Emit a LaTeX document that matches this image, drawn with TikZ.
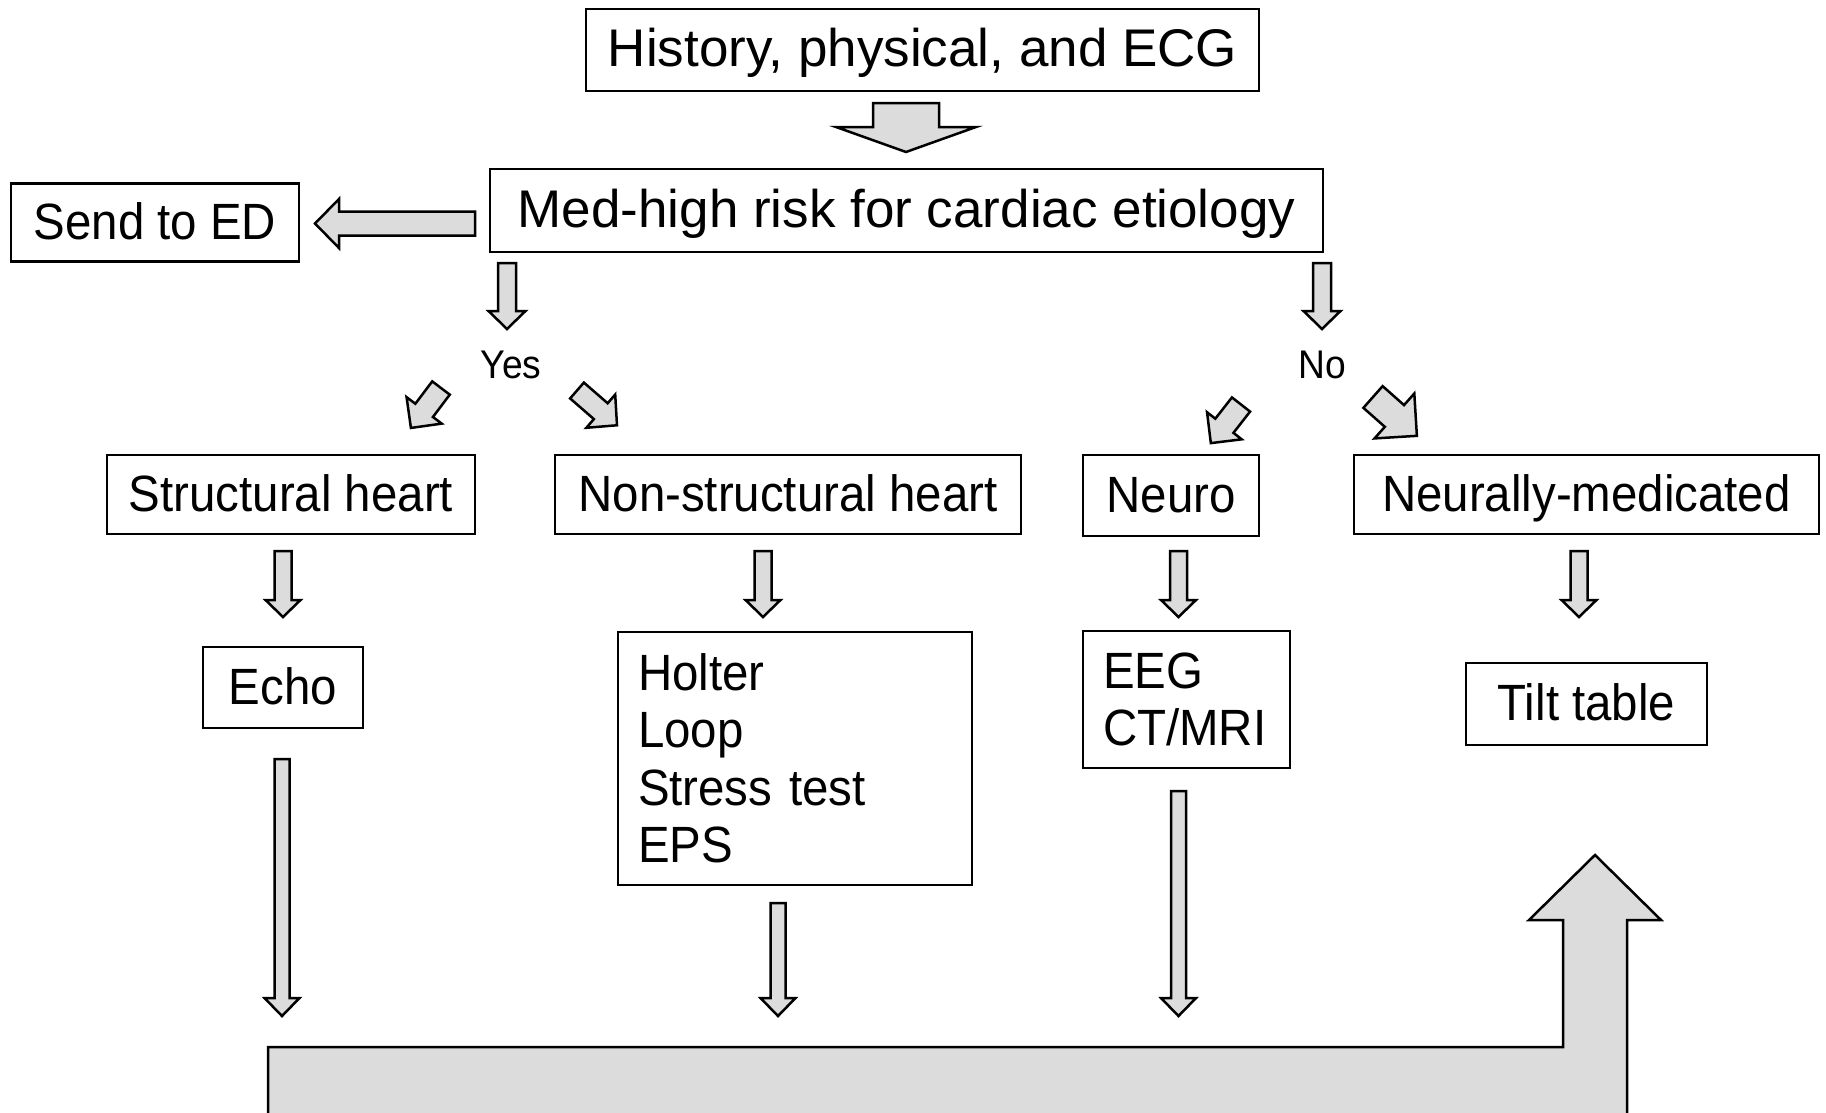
\documentclass[tikz,border=0pt]{standalone}
\usepackage{fontspec}
\setmainfont{Liberation Sans}
\newfontfamily\narrowsf[FakeStretch=0.93]{Liberation Sans}
\usepackage{tikz}
\usetikzlibrary{positioning,calc}
\definecolor{arrowgray}{RGB}{220,220,220}

\tikzset{
  box/.style={draw, line width=2.5pt, inner xsep=20pt, inner ysep=0pt,
    font=\narrowsf\fontsize{51}{57.5}\selectfont},
  oneline/.style={inner xsep=0pt, text height=42pt, text depth=9pt},
  listbox/.style={align=left},
  topbox/.style={box, oneline, font=\fontsize{53}{60}\selectfont},
  barrow/.style={draw, line width=2.5pt, fill=arrowgray, line join=miter},
  answer/.style={anchor=base, inner sep=0pt, font=\narrowsf\fontsize{40}{48}\selectfont}
}

\begin{document}
\begin{tikzpicture}[x=1pt,y=-1pt]

% tail, angle, length, shaft, head, head length
\newcommand{\blockarrow}[6]{%
  \draw[barrow, shift={(#1)}, rotate=#2] (0,{#4/2}) -- ({#3-#6},{#4/2}) -- ({#3-#6},{#5/2})
    -- (#3,0) -- ({#3-#6},{-#5/2}) -- ({#3-#6},{-#4/2}) -- (0,{-#4/2}) -- cycle;}

\useasboundingbox (0,0) rectangle (1826,1112);
\clip (0,0) rectangle (1826,1112);

\node[topbox, minimum width=673pt, minimum height=82pt] (hist) at (922.5,50) {History, physical, and ECG};
\node[topbox, minimum width=833pt, minimum height=83pt] (risk) at (906.5,210.5) {Med-high risk for cardiac etiology};
\node[box, oneline, minimum width=288pt, minimum height=78pt] (ed) at (155,222.5) {Send to ED};

\node[answer] (yes) at (511,378) {Yes};
\node[answer] (no) at (1322,378) {No};

\node[box, oneline, minimum width=368pt, minimum height=79pt] (struct) at (291,494.5) {Structural heart};
\node[box, oneline, minimum width=466pt, minimum height=79pt] (nonstruct) at (788,494.5) {Non-structural heart};
\node[box, oneline, minimum width=176pt, minimum height=81pt] (neuro) at (1171,495.5) {Neuro};
\node[box, oneline, minimum width=465pt, minimum height=79pt] (neurally) at (1586.5,494.5) {Neurally-medicated};

\node[box, oneline, minimum width=160pt, minimum height=81pt] (echo) at (283,687.5) {Echo};
\node[box, listbox, text width=314pt, minimum height=253pt] (holter) at (795,758.5) {Holter\\Loop\\Stress test\\EPS};
\node[box, listbox, text width=167pt, minimum height=137pt] (eeg) at (1186.5,699.5) {EEG\\CT/MRI};
\node[box, oneline, minimum width=241pt, minimum height=82pt] (tilt) at (1586.5,704) {Tilt table};

\coordinate (histtail) at (906,103);
\coordinate (edtail) at (475,223.5);
\coordinate (yestail) at (507,263);
\coordinate (notail) at (1322,263);
\coordinate (yesleft) at (441,388);
\coordinate (yesright) at (577,390.5);
\coordinate (noleft) at (1241,404.5);
\coordinate (noright) at (1373,397);

\blockarrow{histtail}{-90}{49}{66}{140}{25}
\blockarrow{edtail}{180}{160}{24}{49}{24}
\blockarrow{yestail}{-90}{66}{18}{37}{18}
\blockarrow{notail}{-90}{66}{18}{37}{18}
\blockarrow{yesleft}{-127}{50}{22}{44}{22}
\blockarrow{yesright}{-41}{53}{21}{44}{21.5}
\blockarrow{noleft}{-128}{49}{23}{44}{22}
\blockarrow{noright}{-41.5}{58.6}{29}{60}{30}

\foreach \x [count=\i] in {283,763,1178.5,1579} {
  \coordinate (rowtail\i) at (\x,551);
  \blockarrow{rowtail\i}{-90}{66}{17}{35}{17}
}

\coordinate (echotail) at (282,759);
\coordinate (holtertail) at (778,903);
\coordinate (eegtail) at (1178.5,791);
\blockarrow{echotail}{-90}{257}{15}{35}{18}
\blockarrow{holtertail}{-90}{113}{15}{35}{18}
\blockarrow{eegtail}{-90}{225}{15}{35}{18}

% return arrow to tilt table
\draw[barrow] (268,1047) -- (1563,1047) -- (1563,920) -- (1529,920) -- (1595,855)
  -- (1661,920) -- (1627,920) -- (1627,1130) -- (268,1130) -- cycle;

\end{tikzpicture}
\end{document}
